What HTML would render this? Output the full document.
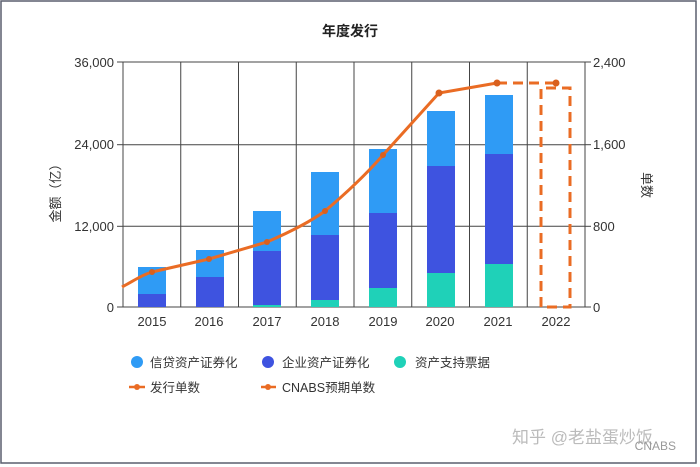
<!DOCTYPE html>
<html><head><meta charset="utf-8"><style>
html,body{margin:0;padding:0;background:#fff;}
svg{display:block;font-family:"Liberation Sans","Noto Sans CJK SC",sans-serif;}
</style></head><body>
<svg width="700" height="467" viewBox="0 0 700 467" xmlns="http://www.w3.org/2000/svg">
<rect x="1" y="1" width="695" height="462" fill="#fff" stroke="#5a5f6e" stroke-width="1.5"/>
<text x="350" y="36" text-anchor="middle" font-size="14" font-weight="bold" fill="#222">年度发行</text>
<g stroke="#444" stroke-width="1" fill="none">
<rect x="123" y="62" width="462" height="245"/>
<line x1="123" y1="144.7" x2="585" y2="144.7"/>
<line x1="123" y1="226.3" x2="585" y2="226.3"/>
<line x1="180.75" y1="62" x2="180.75" y2="307"/>
<line x1="238.5" y1="62" x2="238.5" y2="307"/>
<line x1="296.25" y1="62" x2="296.25" y2="307"/>
<line x1="354" y1="62" x2="354" y2="307"/>
<line x1="411.75" y1="62" x2="411.75" y2="307"/>
<line x1="469.5" y1="62" x2="469.5" y2="307"/>
<line x1="527.25" y1="62" x2="527.25" y2="307"/>
<line x1="117" y1="62" x2="123" y2="62"/><line x1="117" y1="144.7" x2="123" y2="144.7"/><line x1="117" y1="226.3" x2="123" y2="226.3"/><line x1="117" y1="307" x2="123" y2="307"/>
<line x1="585" y1="62" x2="591" y2="62"/><line x1="585" y1="144.7" x2="591" y2="144.7"/><line x1="585" y1="226.3" x2="591" y2="226.3"/><line x1="585" y1="307" x2="591" y2="307"/>
</g>
<g>
<rect x="138" y="267" width="28" height="40" fill="#2f9bf5"/><rect x="138" y="294" width="28" height="13" fill="#3e53e0"/>
<rect x="196" y="250" width="28" height="57" fill="#2f9bf5"/><rect x="196" y="277" width="28" height="30" fill="#3e53e0"/>
<rect x="253" y="211" width="28" height="96" fill="#2f9bf5"/><rect x="253" y="251" width="28" height="56" fill="#3e53e0"/><rect x="253" y="305" width="28" height="2" fill="#1fd1b8"/>
<rect x="311" y="172" width="28" height="135" fill="#2f9bf5"/><rect x="311" y="235" width="28" height="72" fill="#3e53e0"/><rect x="311" y="300" width="28" height="7" fill="#1fd1b8"/>
<rect x="369" y="149" width="28" height="158" fill="#2f9bf5"/><rect x="369" y="213" width="28" height="94" fill="#3e53e0"/><rect x="369" y="288" width="28" height="19" fill="#1fd1b8"/>
<rect x="427" y="111" width="28" height="196" fill="#2f9bf5"/><rect x="427" y="166" width="28" height="141" fill="#3e53e0"/><rect x="427" y="273" width="28" height="34" fill="#1fd1b8"/>
<rect x="485" y="95" width="28" height="212" fill="#2f9bf5"/><rect x="485" y="154" width="28" height="153" fill="#3e53e0"/><rect x="485" y="264" width="28" height="43" fill="#1fd1b8"/>
</g>
<path d="M541 307 L541 88 L570 88 L570 307 L541 307" fill="none" stroke="#ea6c24" stroke-width="3" stroke-dasharray="10 6"/>
<path d="M122 287 C135 280 142 275 152 272 L209 259 L267 242 C290 232 310 222 325 211 C350 190 370 170 383 155 L439 93 L497 83" fill="none" stroke="#ea6c24" stroke-width="3"/>
<line x1="497" y1="83" x2="556" y2="83" stroke="#ea6c24" stroke-width="3" stroke-dasharray="10 6"/>
<g fill="#d9601e"><circle cx="152" cy="272" r="3"/><circle cx="209" cy="259" r="3"/><circle cx="267" cy="242" r="3"/><circle cx="325" cy="211" r="3"/><circle cx="383" cy="155" r="3"/><circle cx="439" cy="93" r="3.5"/><circle cx="497" cy="83" r="3.5"/><circle cx="556" cy="83" r="3.5"/></g>
<g font-size="13" fill="#333" text-anchor="end">
<text x="114" y="67">36,000</text><text x="114" y="149">24,000</text><text x="114" y="231">12,000</text><text x="114" y="312">0</text>
</g>
<g font-size="13" fill="#333">
<text x="593" y="67">2,400</text><text x="593" y="149">1,600</text><text x="593" y="231">800</text><text x="593" y="312">0</text>
</g>
<g font-size="13" fill="#333" text-anchor="middle">
<text x="152" y="326">2015</text><text x="209" y="326">2016</text><text x="267" y="326">2017</text><text x="325" y="326">2018</text><text x="383" y="326">2019</text><text x="440" y="326">2020</text><text x="498" y="326">2021</text><text x="556" y="326">2022</text>
</g>
<text transform="translate(60,190) rotate(-90)" text-anchor="middle" font-size="13" fill="#333">金额（亿）</text>
<text transform="translate(642,185) rotate(90)" text-anchor="middle" font-size="13" fill="#333">单数</text>
<g font-size="12.5" fill="#333">
<circle cx="137" cy="362" r="6" fill="#2f9bf5"/><text x="150" y="367">信贷资产证券化</text>
<circle cx="268" cy="362" r="6" fill="#3e53e0"/><text x="282" y="367">企业资产证券化</text>
<circle cx="400" cy="362" r="6" fill="#1fd1b8"/><text x="415" y="367">资产支持票据</text>
<line x1="129" y1="387" x2="145" y2="387" stroke="#ea6c24" stroke-width="2.5"/><circle cx="137" cy="387" r="3" fill="#ea6c24"/><text x="150" y="392">发行单数</text>
<line x1="261" y1="387" x2="276" y2="387" stroke="#ea6c24" stroke-width="2.5"/><circle cx="268" cy="387" r="3" fill="#ea6c24"/><text x="282" y="392">CNABS预期单数</text>
</g>
<text x="512" y="443" font-size="17" fill="#bbb">知乎 @老盐蛋炒饭</text>
<text x="676" y="450" font-size="12" fill="#999" text-anchor="end">CNABS</text>
</svg>
</body></html>
